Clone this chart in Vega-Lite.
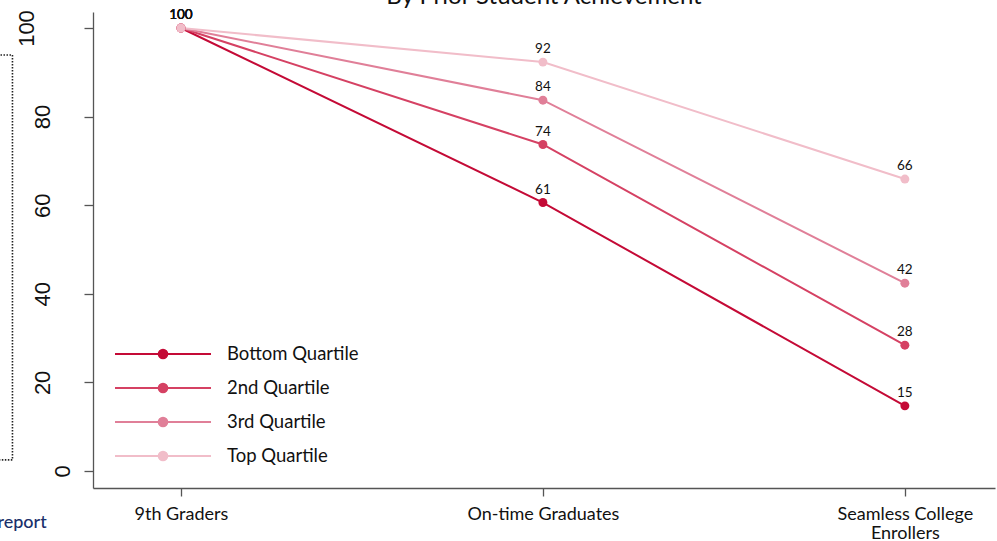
{
  "$schema": "https://vega.github.io/schema/vega-lite/v6.json",
  "width": 902,
  "height": 476,
  "autosize": "none",
  "padding": {"left": 93, "top": 12, "right": 2, "bottom": 53},
  "background": "white",
  "title": {"text": "By Prior Student Achievement", "font": "Lato", "fontSize": 24, "fontWeight": "normal", "color": "#111111", "anchor": "middle", "offset": -1},
  "config": {
    "view": {"stroke": null},
    "axis": {"grid": false, "domainColor": "#555555", "domainWidth": 1.3, "tickColor": "#555555", "tickWidth": 1.3, "labelColor": "#111111", "title": null}
  },
  "layer": [
    {
      "data": {"name": "main", "values": [
        {"group": "Bottom Quartile", "step": 1, "stage": "9th Graders", "value": 100},
        {"group": "Bottom Quartile", "step": 2, "stage": "On-time Graduates", "value": 60.6},
        {"group": "Bottom Quartile", "step": 3, "stage": "Seamless College Enrollers", "value": 14.7},
        {"group": "2nd Quartile", "step": 1, "stage": "9th Graders", "value": 100},
        {"group": "2nd Quartile", "step": 2, "stage": "On-time Graduates", "value": 73.7},
        {"group": "2nd Quartile", "step": 3, "stage": "Seamless College Enrollers", "value": 28.4},
        {"group": "3rd Quartile", "step": 1, "stage": "9th Graders", "value": 100},
        {"group": "3rd Quartile", "step": 2, "stage": "On-time Graduates", "value": 83.7},
        {"group": "3rd Quartile", "step": 3, "stage": "Seamless College Enrollers", "value": 42.4},
        {"group": "Top Quartile", "step": 1, "stage": "9th Graders", "value": 100},
        {"group": "Top Quartile", "step": 2, "stage": "On-time Graduates", "value": 92.3},
        {"group": "Top Quartile", "step": 3, "stage": "Seamless College Enrollers", "value": 65.9}
      ]},
      "encoding": {
        "x": {"field": "step", "type": "quantitative",
          "scale": {"domain": [0.757, 3.249], "nice": false, "zero": false},
          "axis": {"values": [1, 2, 3], "tickSize": 8, "labelPadding": 9, "labelFont": "Lato", "labelFontSize": 18, "labelLineHeight": 19, "labelBaseline": "top",
            "labelExpr": "datum.value == 1 ? '9th Graders' : datum.value == 2 ? 'On-time Graduates' : ['Seamless College', 'Enrollers']"}},
        "y": {"field": "value", "type": "quantitative",
          "scale": {"domain": [-3.84, 103.61], "nice": false, "zero": false},
          "axis": {"values": [0, 20, 40, 60, 80, 100], "tickSize": 9, "labelAngle": 270, "labelAlign": "center", "labelBaseline": "bottom", "labelFont": "Liberation Sans", "labelFontSize": 22,
            "labelPadding": {"expr": "datum.value == 0 ? 10 : datum.value == 100 ? 46 : 30"}}}
      },
      "layer": [
        {
          "mark": {"type": "line", "strokeWidth": 2, "clip": false},
          "encoding": {
            "color": {"field": "group", "type": "nominal",
              "scale": {"domain": ["Bottom Quartile", "2nd Quartile", "3rd Quartile", "Top Quartile"], "range": ["#c40a36", "#d54163", "#e07f98", "#f1bdc9"]},
              "legend": {"orient": "none", "legendX": 21, "legendY": 332, "title": null, "padding": 0,
                "symbolType": "M-1,0L1,0M0.09,0A0.09,0.09,0,1,1,-0.09,0A0.09,0.09,0,1,1,0.09,0Z",
                "symbolSize": 9216, "symbolStrokeWidth": 2, "clipHeight": 20, "rowPadding": 14, "labelOffset": 15,
                "labelFont": "Lato", "labelFontSize": 18.5, "labelColor": "#111111", "symbolOpacity": 1,
                "encode": {"symbols": {"update": {"fill": {"scale": "color", "field": "value"}, "stroke": {"scale": "color", "field": "value"}, "strokeWidth": {"value": 2}, "opacity": {"value": 1}}}}}
            },
            "order": {"field": "step"}
          }
        },
        {
          "mark": {"type": "point", "filled": true, "size": 80, "opacity": 1},
          "encoding": {"color": {"field": "group", "type": "nominal", "legend": null}}
        },
        {
          "mark": {"type": "text", "font": "Lato", "fontSize": 13.5, "color": "#111111", "baseline": "alphabetic", "dy": -9},
          "encoding": {"text": {"field": "value", "type": "quantitative", "format": ".0f"}}
        }
      ]
    },
    {
      "data": {"values": [{"item": "frame"}]},
      "mark": {"type": "rect", "fill": null, "stroke": "#222222", "strokeWidth": 1.6, "strokeDash": [1.5, 1.5], "clip": false},
      "encoding": {
        "x": {"datum": 0.46, "type": "quantitative"},
        "x2": {"datum": 0.5345},
        "y": {"datum": 93.9, "type": "quantitative"},
        "y2": {"datum": 2.5}
      }
    },
    {
      "data": {"values": [{"item": "report"}]},
      "mark": {"type": "text", "text": "report", "font": "Lato", "fontSize": 18, "fontWeight": 500, "color": "#1a2f6b", "align": "right", "baseline": "alphabetic", "clip": false},
      "encoding": {
        "x": {"datum": 0.629, "type": "quantitative"},
        "y": {"datum": -12.9, "type": "quantitative"}
      }
    }
  ]
}
